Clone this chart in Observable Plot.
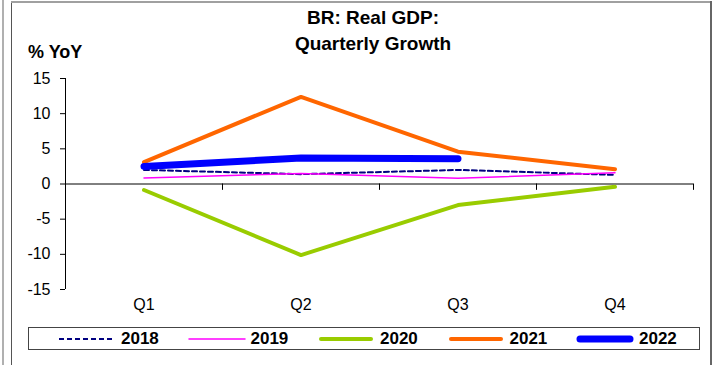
<!DOCTYPE html>
<html><head><meta charset="utf-8">
<script src="https://cdn.jsdelivr.net/npm/d3@7"></script>
<script src="https://cdn.jsdelivr.net/npm/@observablehq/plot@0.6"></script>
<style>
body{margin:0;background:#fff;font-family:"Liberation Sans",Arial,sans-serif;}
#wrap{position:relative;width:712px;height:365px;overflow:hidden;background:#fff;}
#wrap > svg{position:absolute;left:0;top:0;}
.frame{position:absolute;}
#title{position:absolute;left:223px;width:300px;top:5px;text-align:center;font-weight:bold;font-size:19px;line-height:26px;color:#000;white-space:nowrap;}
#ylab{position:absolute;left:28px;top:42px;font-weight:bold;font-size:18px;color:#000;}
#legend{position:absolute;left:28px;top:327px;width:672px;height:23px;border:1px solid #444;box-sizing:border-box;background:#fff;}
.entry{position:absolute;top:0;height:21px;display:flex;align-items:center;}
.entry svg{display:block;}
.entry span{font-weight:bold;font-size:17px;margin-left:5px;color:#000;}
</style></head><body>
<div id="wrap">
  <div class="frame" style="left:2px;top:0;width:2px;height:365px;background:#b0b0b0"></div>
  <div class="frame" style="left:11px;top:1px;width:1px;height:364px;background:#555"></div>
  <div class="frame" style="left:11px;top:1px;width:701px;height:2px;background:#a0a0a0"></div>
  <div class="frame" style="left:710px;top:1px;width:2px;height:364px;background:#666"></div>
  <div id="title">BR: Real GDP:<br>Quarterly Growth</div>
  <div id="ylab">% YoY</div>
  <div id="legend"></div>
</div>
<script>
const quarters = ["Q1", "Q2", "Q3", "Q4"];
const years = ["2018", "2019", "2020", "2021", "2022"];
const v2018 = [2.0, 1.4, 2.0, 1.3];
const v2019 = [0.85, 1.5, 0.8, 1.6];
const v2020 = [-0.85, -10.1, -3.0, -0.4];
const v2021 = [3.1, 12.4, 4.6, 2.1];
const v2022 = [2.5, 3.7, 3.6];
const yTicks = [-15, -10, -5, 0, 5, 10, 15];

const seriesValues = [v2018, v2019, v2020, v2021, v2022];
const styles = [
  {stroke: "#000080", strokeWidth: 2, strokeDasharray: "5,3"},
  {stroke: "#ff00ff", strokeWidth: 1.5},
  {stroke: "#99cc00", strokeWidth: 4},
  {stroke: "#ff6600", strokeWidth: 4},
  {stroke: "#0000ff", strokeWidth: 7}
];

const rows = s => seriesValues[s].map((v, i) => ({x: i + 0.5, y: v, q: quarters[i]}));

const marks = [
  Plot.ruleX([0], {stroke: "#000", strokeWidth: 1}),
  Plot.ruleY([0], {stroke: "#000", strokeWidth: 1}),
  Plot.ruleX(quarters.map((q, i) => i + 1), {y1: 0, y2: -0.9, stroke: "#000", strokeWidth: 1}),
  Plot.axisY({ticks: yTicks, tickSize: 5, tickPadding: 10, fontSize: 16, tickFormat: d => String(d)}),
  Plot.axisX({ticks: quarters.map((q, i) => i + 0.5), tickFormat: (d) => quarters[Math.floor(d)], tickSize: 0, tickPadding: 9, fontSize: 16})
];
years.forEach((y, s) => {
  marks.push(Plot.line(rows(s), {x: "x", y: "y", strokeLinecap: "round", strokeLinejoin: "miter", ...styles[s]}));
});

const chart = Plot.plot({
  width: 712,
  height: 365,
  marginLeft: 65,
  marginRight: 19,
  marginTop: 78,
  marginBottom: 76,
  x: {domain: [0, quarters.length], label: null},
  y: {domain: [-15, 15], label: null},
  style: {background: "transparent", color: "#000", fontFamily: "'Liberation Sans', Arial, sans-serif"},
  marks
});
document.getElementById("wrap").insertBefore(chart, document.getElementById("title"));

const legend = document.getElementById("legend");
years.forEach((y, s) => {
  const e = document.createElement("div");
  e.className = "entry";
  e.style.left = (29 + s * 129.5) + "px";
  const st = styles[s];
  const thick = st.strokeWidth > 3;
  e.innerHTML = `<svg width="58" height="10"><line x1="${thick ? 4 : 1}" x2="${thick ? 54 : 57}" y1="5" y2="5" stroke="${st.stroke}" stroke-width="${st.strokeWidth}" stroke-linecap="${st.strokeDasharray ? 'butt' : 'round'}" ${st.strokeDasharray ? `stroke-dasharray="${st.strokeDasharray}"` : ""}/></svg><span>${y}</span>`;
  legend.appendChild(e);
});
</script>
</body></html>
